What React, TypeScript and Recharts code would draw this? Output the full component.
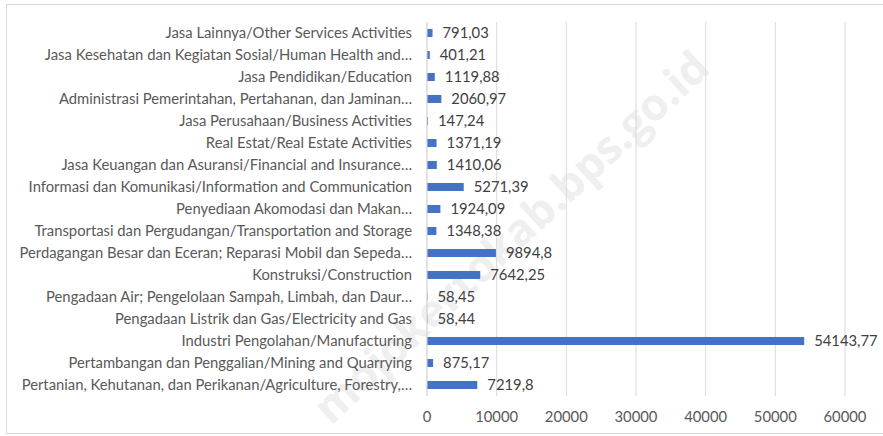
import { BarChart, Bar, XAxis, YAxis, CartesianGrid, LabelList } from 'recharts';

const categories = [
  'Jasa Lainnya/Other Services Activities',
  'Jasa Kesehatan dan Kegiatan Sosial/Human Health and…',
  'Jasa Pendidikan/Education',
  'Administrasi Pemerintahan, Pertahanan, dan Jaminan…',
  'Jasa Perusahaan/Business Activities',
  'Real Estat/Real Estate Activities',
  'Jasa Keuangan dan Asuransi/Financial and Insurance…',
  'Informasi dan Komunikasi/Information and Communication',
  'Penyediaan Akomodasi dan Makan…',
  'Transportasi dan Pergudangan/Transportation and Storage',
  'Perdagangan Besar dan Eceran; Reparasi Mobil dan Sepeda…',
  'Konstruksi/Construction',
  'Pengadaan Air; Pengelolaan Sampah, Limbah, dan Daur…',
  'Pengadaan Listrik dan Gas/Electricity and Gas',
  'Industri Pengolahan/Manufacturing',
  'Pertambangan dan Penggalian/Mining and Quarrying',
  'Pertanian, Kehutanan, dan Perikanan/Agriculture, Forestry,…',
];

const values = [
  791.03, 401.21, 1119.88, 2060.97, 147.24, 1371.19, 1410.06, 5271.39, 1924.09,
  1348.38, 9894.8, 7642.25, 58.45, 58.44, 54143.77, 875.17, 7219.8,
];

const xTicks = [0, 10000, 20000, 30000, 40000, 50000, 60000];

const data = categories.map((name, i) => ({ name, value: values[i] }));

const font = 'Lato, "Open Sans", sans-serif';
const fs = 14.8;

export default function App() {
  return (
    <div style={{ position: 'absolute', left: 0, top: 0, width: 883, height: 436, background: '#fff', overflow: 'hidden' }}>
      <div
        style={{
          position: 'absolute',
          left: 6,
          top: 4,
          width: 890,
          height: 428,
          border: '1px solid #d9d9d9',
        }}
      />
      <div
        style={{
          position: 'absolute',
          left: 510,
          top: 236,
          transform: 'translate(-50%, -50%) rotate(-43deg)',
          fontFamily: '"Open Sans", sans-serif',
          fontWeight: 700,
          fontSize: 44,
          color: '#efefef',
          whiteSpace: 'nowrap',
        }}
      >
        mojokertokab.bps.go.id
      </div>
      <div style={{ position: 'absolute', left: 0, top: 0 }}>
        <BarChart
          layout="vertical"
          width={883}
          height={436}
          data={data}
          barSize={8}
          margin={{ top: 22, right: 38, bottom: 10, left: 0 }}
        >
          <CartesianGrid horizontal={false} stroke="#d9d9d9" strokeWidth={1} />
          <XAxis
            type="number"
            domain={[0, 60000]}
            ticks={xTicks}
            axisLine={false}
            tickLine={false}
            tickMargin={9}
            height={30}
            tick={{ fill: '#595959', fontSize: fs, fontFamily: font }}
          />
          <YAxis
            type="category"
            dataKey="name"
            width={427}
            interval={0}
            tickLine={false}
            tickMargin={9}
            axisLine={{ stroke: '#d9d9d9' }}
            tick={{ fill: '#595959', fontSize: fs, fontFamily: font }}
          />
          <Bar dataKey="value" fill="#4472c4" isAnimationActive={false}>
            <LabelList
              dataKey="value"
              position="right"
              offset={10}
              fill="#404040"
              fontSize={fs}
              fontFamily={font}
              formatter={(v: number) => String(v).replace('.', ',')}
            />
          </Bar>
        </BarChart>
      </div>
    </div>
  );
}
